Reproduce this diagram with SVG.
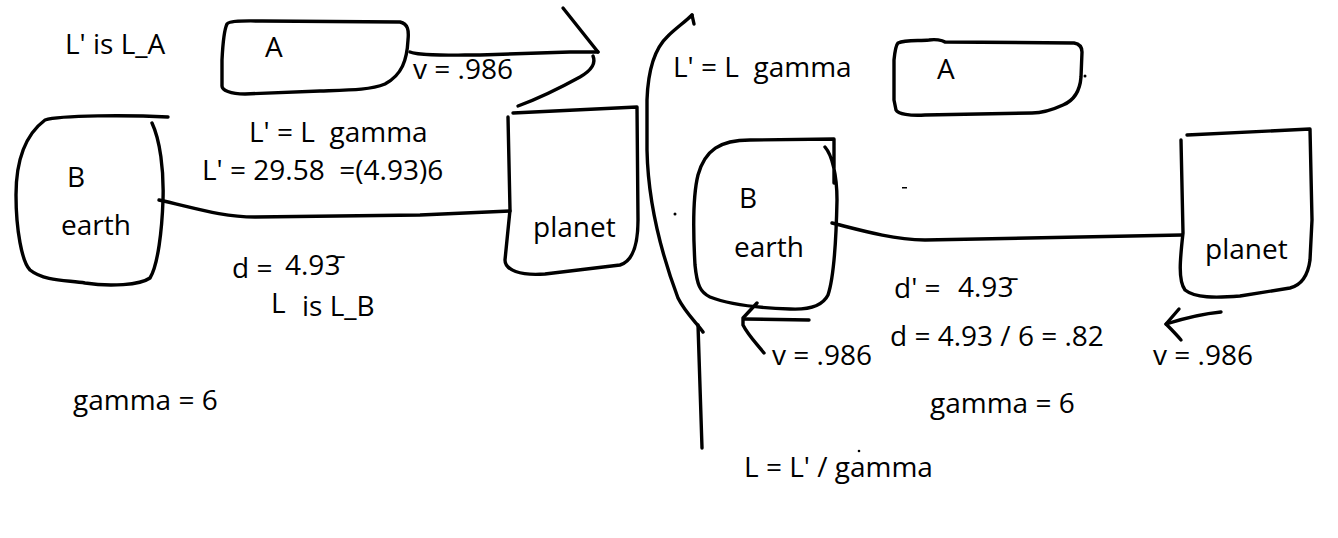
<svg xmlns="http://www.w3.org/2000/svg" width="1338" height="538" viewBox="0 0 1338 538">
<style>
.s{fill:none;stroke:#000;stroke-width:3.4;stroke-linecap:round;stroke-linejoin:round}
text{font-family:"Open Sans","Liberation Sans",sans-serif;font-size:28px;fill:#000}
.dot{fill:#000}
</style>
<rect width="1338" height="538" fill="#fff"/>

<!-- LEFT PANEL -->
<g id="labels-left">
<text x="65" y="54">L' is L_A</text>
<text x="413" y="79">v = .986</text>
<text x="249" y="142" xml:space="preserve">L' = L  gamma</text>
<text x="202" y="180" xml:space="preserve">L' = 29.58  =(4.93)6</text>
<text y="278"><tspan x="232">d =</tspan><tspan x="285" y="275">4.93̄</tspan></text>
<text y="313"><tspan x="271">L</tspan><tspan x="302" y="316">is L_B</tspan></text>
<text x="73" y="410">gamma = 6</text>
</g>

<g id="node-A-left">
<path class="s" d="M227,24 C230,20 250,21 262,21 L400,22 C408,24 409,30 408,40 C407,60 402,75 385,84 C370,90 350,90 320,91 L245,94 C230,94 222,90 222,86 L222,60 C223,40 224,30 227,24"/>
<text x="265" y="57">A</text>
</g>

<g id="node-B-left">
<path class="s" d="M168,117 C130,115 60,115 45,120 C25,135 16,160 16,195 C16,230 22,262 30,270 C45,282 70,280 85,283 C110,287 140,285 150,278 C158,265 162,230 163,200 C164,170 160,140 152,123"/>
<text x="67" y="187">B</text>
<text x="61" y="235">earth</text>
</g>

<g id="node-planet-left">
<path class="s" d="M508,117 L510,210 L505,260 C505,270 520,276 545,274 L620,265 C630,262 638,250 638,220 L637,107 L513,113"/>
<text x="533" y="237">planet</text>
</g>

<!-- RIGHT PANEL -->
<g id="labels-right">
<text x="673" y="77" xml:space="preserve">L' = L  gamma</text>
<text y="298"><tspan x="894">d' =</tspan><tspan x="958" y="297">4.93̄</tspan></text>
<text x="890" y="346">d = 4.93 / 6 = .82</text>
<text x="772" y="365">v = .986</text>
<text x="1153" y="365">v = .986</text>
<text x="930" y="413">gamma = 6</text>
<text x="744" y="477">L = L' / gamma</text>
</g>

<g id="node-A-right">
<path class="s" d="M898,43 C905,40 918,41 929,40 C935,39 942,40 945,42 L1074,43 C1080,44 1082,47 1082,52 L1081,77 C1080,90 1075,100 1063,105 C1050,111 1040,113 1032,113 L925,115 C910,116 898,114 896,110 L894,100 L894,60 C895,50 896,45 898,43"/>
<text x="937" y="79">A</text>
</g>

<g id="node-B-right">
<path class="s" d="M834,183 L834,139 L750,140 C720,140 705,150 698,175 C693,195 693,230 695,265 C697,285 700,292 710,297 C730,305 760,308 790,309 C810,310 823,305 828,295 C833,280 836,250 837,200 C837,175 832,155 825,147"/>
<text x="739" y="208">B</text>
<text x="734" y="257">earth</text>
</g>

<g id="node-planet-right">
<path class="s" d="M1181,140 L1183,233 C1180,260 1178,280 1185,290 C1195,298 1215,298 1240,296 L1290,288 C1302,285 1308,275 1310,260 L1312,220 L1310,129 L1187,135"/>
<text x="1205" y="259">planet</text>
</g>

<g id="connectors">
<!-- left panel -->
<path class="s" d="M410,52 C420,56 450,55 480,55 L570,52 L598,52"/>
<path class="s" d="M563,8 L598,52"/>
<path class="s" d="M593,56 C596,63 592,70 580,77 C560,88 540,98 518,106"/>
<path class="s" d="M159,200 C195,208 222,217 255,217 L420,215 L510,211"/>
<!-- divider -->
<path class="s" d="M692,15 L694,24"/>
<path class="s" d="M692,15 C685,22 676,28 668,36 C655,48 648,70 647,100 L647,150 C648,200 660,250 678,298 C686,314 698,324 703,332"/>
<path class="s" d="M698,325 L702,448"/>
<!-- right panel -->
<path class="s" d="M832,223 C860,230 890,239 925,240 L1182,235"/>
<path class="s" d="M809,320 L744,319"/>
<path class="s" d="M757,303 L743,318 L743,325 C748,335 756,343 764,353"/>
<path class="s" d="M1221,312 C1200,314 1185,318 1166,324"/>
<path class="s" d="M1179,309 L1166,324 C1172,330 1176,334 1181,340"/>
</g>

<g id="marks">
<circle class="dot" cx="1085" cy="76" r="1.5"/>
<circle class="dot" cx="675" cy="214" r="1.5"/>
<rect class="dot" x="902" y="187" width="5" height="1.5"/>
<circle class="dot" cx="859" cy="451" r="1.3"/>
</g>
</svg>
